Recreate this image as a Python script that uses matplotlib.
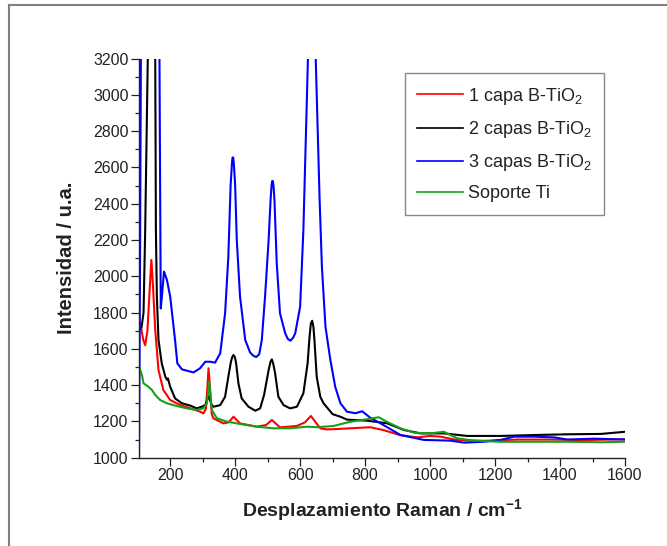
import matplotlib
matplotlib.use("Agg")
import matplotlib.pyplot as plt
from matplotlib.ticker import MultipleLocator
from matplotlib.lines import Line2D

plt.rcParams['font.family'] = ['Liberation Sans', 'DejaVu Sans']
plt.rcParams['mathtext.fontset'] = 'custom'
plt.rcParams['mathtext.rm'] = 'Liberation Sans'
plt.rcParams['mathtext.it'] = 'Liberation Sans'
plt.rcParams['mathtext.bf'] = 'Liberation Sans:bold'

# ---- data ----
labels = ["1 capa B-TiO$_2$", "2 capas B-TiO$_2$", "3 capas B-TiO$_2$", "Soporte Ti"]
colors = ["#ff0000", "#000000", "#0000ff", "#17a017"]

red_x = [104, 110, 117, 123, 130, 136, 142, 147, 154, 164, 179, 200, 231, 262, 292, 302, 310, 315, 318, 322, 328,
         333, 364, 380, 395, 415, 467, 495, 513, 538, 590, 615, 633, 662, 682, 713, 754, 816, 857, 909, 960, 1000,
         1032, 1083, 1166, 1269, 1372, 1475, 1600]
red_y = [1760, 1720, 1650, 1620, 1700, 1900, 2090, 1950, 1704, 1483, 1373, 1318, 1290, 1272, 1254, 1244, 1270, 1400,
         1493, 1400, 1240, 1217, 1189, 1195, 1226, 1189, 1171, 1180, 1208, 1167, 1175, 1195, 1230, 1162, 1156, 1158,
         1162, 1168, 1152, 1124, 1112, 1120, 1116, 1097, 1093, 1100, 1100, 1097, 1102]

black_x = [104, 112, 118, 123, 131, 137, 143, 149, 154, 156, 159, 164, 174, 185, 190, 193, 200, 215, 236, 262, 282,
           297, 308, 318, 328, 333, 354, 369, 379, 387, 391, 395, 399, 403, 410, 420, 441, 462, 477, 489, 503, 509,
           513, 517, 523, 533, 549, 569, 590, 610, 623, 629, 633, 637, 641, 644, 651, 662, 672, 700, 724, 744, 806,
           867, 919, 970, 1042, 1114, 1217, 1320, 1423, 1526, 1600]
black_y = [1700, 1720, 1800, 2250, 3200, 5500, 7000, 5500, 3200, 2255, 1888, 1649, 1520, 1447, 1430, 1437, 1391, 1327,
           1300, 1287, 1272, 1281, 1290, 1340, 1290, 1281, 1290, 1336, 1447, 1529, 1555, 1566, 1555, 1520, 1410, 1327,
           1281, 1259, 1272, 1346, 1483, 1530, 1542, 1520, 1465, 1336, 1290, 1272, 1281, 1355, 1520, 1667, 1740, 1755,
           1720, 1649, 1447, 1336, 1300, 1240, 1226, 1210, 1204, 1190, 1153, 1134, 1134, 1120, 1120, 1125, 1129, 1131,
           1143]

blue_x = [104, 107, 110, 125, 143, 160, 167, 169, 171, 175, 181, 190, 200, 215, 222, 236, 272, 292, 308, 323, 338,
          354, 369, 379, 386, 390, 392, 394, 396, 400, 405, 415, 431, 446, 456, 465, 474, 482, 492, 503, 509, 512,
          514, 516, 518, 521, 528, 538, 554, 562, 570, 578, 585, 600, 610, 624, 636, 648, 660, 667, 678, 693, 708,
          724, 744, 770, 791, 816, 847, 909, 981, 1063, 1104, 1166, 1217, 1258, 1320, 1382, 1423, 1505, 1600]
blue_y = [1000, 2000, 3300, 6500, 9000, 6500, 3200, 2500, 1823, 1900, 2026, 1980, 1888, 1649, 1520, 1487, 1470, 1493,
          1529, 1529, 1524, 1575, 1796, 2108, 2500, 2620, 2655, 2655, 2620, 2500, 2200, 1888, 1649, 1580, 1562, 1555,
          1570, 1649, 1888, 2200, 2420, 2500, 2525, 2525, 2500, 2420, 2071, 1796, 1686, 1655, 1645, 1660, 1686, 1833,
          2255, 3200, 9000, 3200, 2420, 2053, 1722, 1539, 1391, 1300, 1254, 1245, 1256, 1220, 1190, 1125, 1098, 1094,
          1083, 1088, 1098, 1116, 1116, 1112, 1100, 1105, 1100]

green_x = [104, 113, 118, 133, 144, 154, 169, 190, 220, 251, 282, 302, 313, 317, 320, 323, 328, 344, 374, 415, 467,
           518, 569, 621, 651, 703, 754, 806, 842, 867, 909, 950, 1001, 1042, 1083, 1135, 1217, 1320, 1423, 1526, 1600]
green_y = [1502, 1456, 1410, 1391, 1373, 1346, 1318, 1300, 1285, 1272, 1263, 1272, 1300, 1370, 1419, 1360, 1263, 1217,
           1199, 1186, 1171, 1162, 1162, 1171, 1168, 1175, 1198, 1212, 1223, 1198, 1162, 1138, 1134, 1143, 1107, 1094,
           1088, 1088, 1088, 1085, 1088]

xlim = (104, 1600)
ylim = (1000, 3200)

# ---- figure ----
W, H = 667, 546
fig = plt.figure(figsize=(W / 100, H / 100), dpi=100)
ax = fig.add_axes([139 / W, 1 - 457.7 / H, (625 - 139) / W, (457.7 - 58.6) / H])

series = [(red_x, red_y), (black_x, black_y), (blue_x, blue_y), (green_x, green_y)]
order = [1, 2, 0, 3]  # draw order
for i in order:
    xs, ys = series[i]
    ax.plot(xs, ys, color=colors[i], lw=1.5, zorder=2 + i * 0.1)
handles = [Line2D([], [], color=c, lw=1.2) for c in colors]

ax.set_xlim(*xlim)
ax.set_ylim(*ylim)
ax.xaxis.set_major_locator(MultipleLocator(200))
ax.xaxis.set_minor_locator(MultipleLocator(100))
ax.yaxis.set_major_locator(MultipleLocator(200))
ax.yaxis.set_minor_locator(MultipleLocator(100))
for s in ['top', 'right']:
    ax.spines[s].set_visible(False)
for s in ['left', 'bottom']:
    ax.spines[s].set_linewidth(1.0)
    ax.spines[s].set_color('#222222')
ax.tick_params(which='major', direction='out', length=5.5, width=0.9, labelsize=11.5,
               colors='#222222', pad=2)
ax.tick_params(which='minor', direction='out', length=3, width=0.9, colors='#222222')

ax.set_xlabel(r"Desplazamiento Raman / cm$^{\mathbf{-1}}$", fontsize=14, fontweight='bold',
              color='#222222', labelpad=10)
ax.set_ylabel("Intensidad / u.a.", fontsize=14.5, fontweight='bold', color='#222222', labelpad=12)

leg = ax.legend(handles, labels, loc='upper left', bbox_to_anchor=(0.547, 0.964), borderaxespad=0,
                fontsize=13, frameon=True, fancybox=False, edgecolor='#888888', framealpha=1,
                handlelength=2.5, handletextpad=0.3, borderpad=0.7, labelspacing=0.68)
leg.get_frame().set_linewidth(1.0)
for t in leg.get_texts():
    t.set_color('#222222')

# figure border (gray frame at the left and top)
fig.add_artist(Line2D([9 / W, 9 / W], [0, 1 - 5 / H], transform=fig.transFigure, color='#808080', lw=1.5))
fig.add_artist(Line2D([9 / W, 1], [1 - 5 / H, 1 - 5 / H], transform=fig.transFigure, color='#808080', lw=1.5))

fig.savefig("out.png", dpi=100)
